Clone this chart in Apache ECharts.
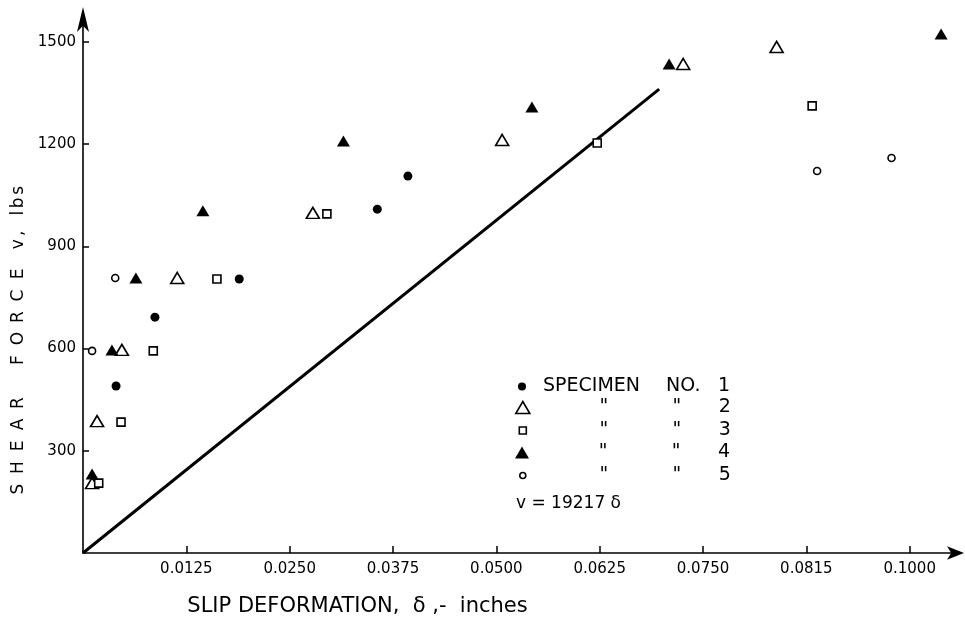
<!DOCTYPE html>
<html>
<head>
<meta charset="utf-8">
<script src="https://cdn.jsdelivr.net/npm/echarts@6/dist/echarts.min.js"></script>
<style>html,body{margin:0;padding:0;background:#fff;}#c{width:965px;height:623px;}</style>
</head>
<body>
<div id="c"></div>
<script>
// ---- data ----
const xTickValues = [0.0125, 0.0250, 0.0375, 0.0500, 0.0625, 0.0750, 0.0875, 0.1000];
const xTickLabels = ['0.0125', '0.0250', '0.0375', '0.0500', '0.0625', '0.0750', '0.0815', '0.1000'];
const yTickValues = [300, 600, 900, 1200, 1500];

const spec1 = [[0.0040, 490], [0.0087, 692], [0.0189, 804], [0.0356, 1009], [0.0393, 1106]];
const spec2 = [[0.0011, 205], [0.0017, 387], [0.0047, 596], [0.0114, 807], [0.0278, 998], [0.0507, 1212], [0.0726, 1435], [0.0839, 1485]];
const spec3 = [[0.0019, 205], [0.0046, 384], [0.0085, 593], [0.0162, 804], [0.0295, 995], [0.0622, 1203], [0.0882, 1312]];
const spec4 = [[0.0011, 232], [0.0064, 807], [0.0035, 596], [0.0145, 1004], [0.0315, 1209], [0.0543, 1309], [0.0709, 1435], [0.1038, 1523]];
const spec5 = [[0.0011, 593], [0.0039, 807], [0.0888, 1121], [0.0978, 1159]];
const fitLine = [[0, 0], [0.0697, 1361]];

const legendCol1 = ['SPECIMEN', '"', '"', '"', '"'];
const legendCol2 = ['NO.', '"', '"', '"', '"'];
const legendCol3 = ['1', '2', '3', '4', '5'];
const fitLabel = 'v = 19217 δ';
const xTitle = 'SLIP DEFORMATION,  δ ,-  inches';
const yTitleMain = 'SHEAR FORCE';
const yTitleUnit = ['v', ',', 'l', 'b', 's'];

// ---- chart ----
const FONT = 'DejaVu Sans';
const names = legendCol3.map((n, i) => legendCol1[i] + ' ' + legendCol2[i] + ' ' + n);
const chart = echarts.init(document.getElementById('c'), null, {renderer: 'canvas'});

const openStyle = {color: '#fff', borderColor: '#000', borderWidth: 1.6, opacity: 1};
const fillStyle = {color: '#000', opacity: 1};
const seriesDefs = [
  {data: spec1, symbol: 'circle', size: 9, style: fillStyle},
  {data: spec2, symbol: 'triangle', size: [13, 11], style: openStyle},
  {data: spec3, symbol: 'rect', size: 8, style: openStyle},
  {data: spec4, symbol: 'triangle', size: [13, 11], style: fillStyle},
  {data: spec5, symbol: 'circle', size: 7, style: openStyle}
];
// legend layout
const legendRowsY = [387, 408, 431, 453, 476];
const legendIconW = [8, 14, 7, 14, 6];
const legendIconH = [8, 12, 7, 12, 6];
const legendIconCX = 522, legendTextX = 543;

const tx = {fontSize: 19, fontFamily: FONT, color: '#000', lineHeight: 20};
const legendRich = {
  pad: {lineHeight: 20},
  s: Object.assign({width: 123}, tx),
  n: Object.assign({width: 52}, tx),
  d1: Object.assign({width: 120, align: 'center'}, tx),
  d2: Object.assign({width: 26, align: 'center'}, tx),
  sp: {width: 29, lineHeight: 20},
  num: tx
};

const legends = names.map((nm, i) => {
  const w = legendIconW[i];
  const left = legendIconCX - w / 2;
  const padW = legendTextX - (left + w + 5);
  const rich = Object.assign({}, legendRich, {pad: {width: padW, lineHeight: 20}});
  return {
    data: [{name: nm, icon: seriesDefs[i].symbol}],
    left: left, top: legendRowsY[i] - 10, padding: 0,
    itemWidth: w, itemHeight: legendIconH[i],
    symbolKeepAspect: false,
    selectedMode: false,
    itemStyle: seriesDefs[i].style,
    textStyle: {rich: rich, fontFamily: FONT, fontSize: 19, color: '#000'},
    formatter: () => i === 0
      ? '{pad| }{s|' + legendCol1[0] + '}{n|' + legendCol2[0] + '}{num|' + legendCol3[0] + '}'
      : '{pad| }{d1|' + legendCol1[i] + '}{d2|' + legendCol2[i] + '}{sp| }{num|' + legendCol3[i] + '}'
  };
});

// y-axis title, letter-spaced via fixed-width rich boxes
const yName = yTitleMain.split('').map(c => '{L|' + c + '}').join('') + '{g| }' +
  '{v|' + yTitleUnit[0] + '}{k|' + yTitleUnit[1] + '}{g| }{l|' + yTitleUnit[2] + '}{b|' + yTitleUnit[3] + '}{s|' + yTitleUnit[4] + '}';
const yt = {fontSize: 17, fontFamily: FONT, color: '#000', align: 'center'};

chart.setOption({
  animation: false,
  backgroundColor: '#fff',
  grid: {left: 83, right: 9, top: 20, bottom: 70, containLabel: false},
  title: {text: fitLabel, left: 516, top: 495, padding: 0,
    textStyle: {fontFamily: FONT, fontSize: 17, fontWeight: 'normal', color: '#000'}},
  legend: legends,
  xAxis: {
    type: 'value', min: 0, max: 0.1056,
    name: xTitle, nameLocation: 'middle', nameGap: 43,
    nameTextStyle: {fontFamily: FONT, fontSize: 21, color: '#000', padding: [0, 324, 0, 0]},
    axisLine: {show: true, lineStyle: {color: '#000', width: 1.6}, symbol: ['none', 'arrow'], symbolSize: [10, 17], symbolOffset: [0, 8]},
    axisTick: {show: true, inside: true, length: 7, lineStyle: {color: '#000', width: 1.5}, customValues: xTickValues},
    axisLabel: {show: true, margin: 9, fontFamily: FONT, fontSize: 15, color: '#000', customValues: xTickValues,
      formatter: v => { const i = xTickValues.findIndex(t => Math.abs(t - v) < 1e-9); return i >= 0 ? xTickLabels[i] : ''; }},
    splitLine: {show: false}
  },
  yAxis: {
    type: 'value', min: 0, max: 1564,
    name: yName, nameLocation: 'middle', nameGap: 45, nameRotate: 90,
    nameTextStyle: {fontFamily: FONT, fontSize: 17, color: '#000', padding: [0, 111, 0, 0],
      rich: {
        L: Object.assign({width: 21.5}, yt), g: {width: 12},
        v: Object.assign({width: 14}, yt), k: Object.assign({width: 8}, yt),
        l: Object.assign({width: 8}, yt), b: Object.assign({width: 13}, yt), s: Object.assign({width: 12}, yt)
      }},
    axisLine: {show: true, lineStyle: {color: '#000', width: 1.6}, symbol: ['none', 'arrow'], symbolSize: [9, 25], symbolOffset: [0, 13]},
    axisTick: {show: true, inside: true, length: 6, lineStyle: {color: '#000', width: 1.5}, customValues: yTickValues},
    axisLabel: {show: true, margin: 7, fontFamily: FONT, fontSize: 15, color: '#000', customValues: yTickValues,
      formatter: v => String(v)},
    splitLine: {show: false}
  },
  series: [
    {type: 'line', name: fitLabel, data: fitLine, symbol: 'none', silent: true, z: 1,
      lineStyle: {color: '#000', width: 3}}
  ].concat(seriesDefs.map((d, i) => ({
    type: 'scatter', name: names[i], data: d.data, symbol: d.symbol, symbolSize: d.size,
    itemStyle: d.style, z: 3, silent: true
  })))
});
</script>
</body>
</html>
